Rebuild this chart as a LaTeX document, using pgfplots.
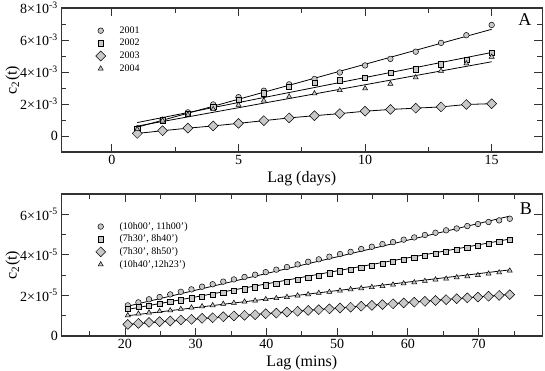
\documentclass[border=0pt]{standalone}
\usepackage{pgfplots}
\pgfplotsset{compat=1.18}
\usepackage{fontspec}
\setmainfont{Liberation Serif}

\definecolor{mfill}{RGB}{200,200,200}
\definecolor{axgray}{RGB}{50,50,50}

\pgfplotstableread{
lag c01 c02 c03 c04
1  0.48 0.42 0.16 0.42
2  1.02 0.98 0.33 0.96
3  1.48 1.38 0.49 1.33
4  1.97 1.85 0.63 1.67
5  2.43 2.29 0.79 1.94
6  2.83 2.67 0.96 2.21
7  3.23 3.08 1.13 2.46
8  3.56 3.31 1.27 2.66
9  3.97 3.49 1.40 2.87
10 4.41 3.66 1.55 2.97
11 4.82 3.93 1.66 3.26
12 5.27 4.17 1.74 3.66
13 5.82 4.48 1.82 4.07
14 6.30 4.79 1.97 4.53
15 6.94 5.19 2.02 4.95
}\daysdata

\pgfplotstableread{
lag a b c d
20.4 1.51 1.35 0.57 1.02
21.9 1.66 1.43 0.62 1.10
23.4 1.81 1.49 0.67 1.15
24.9 1.92 1.58 0.71 1.22
26.4 2.05 1.67 0.74 1.26
27.9 2.18 1.76 0.79 1.33
29.4 2.30 1.86 0.82 1.40
30.9 2.43 1.94 0.87 1.46
32.4 2.55 2.04 0.90 1.51
33.9 2.68 2.12 0.95 1.58
35.4 2.79 2.22 0.99 1.63
36.9 2.91 2.30 1.02 1.69
38.4 3.02 2.40 1.05 1.74
39.9 3.15 2.50 1.10 1.81
41.4 3.27 2.58 1.13 1.86
42.9 3.40 2.68 1.18 1.92
44.4 3.53 2.79 1.22 1.99
45.9 3.66 2.89 1.26 2.05
47.4 3.78 2.99 1.30 2.12
48.9 3.91 3.09 1.34 2.17
50.4 4.04 3.19 1.38 2.23
51.9 4.15 3.28 1.42 2.30
53.4 4.29 3.38 1.47 2.35
54.9 4.40 3.48 1.51 2.41
56.4 4.53 3.58 1.55 2.46
57.9 4.63 3.67 1.59 2.53
59.4 4.75 3.77 1.63 2.59
60.9 4.86 3.86 1.67 2.64
62.4 4.98 3.96 1.71 2.71
63.9 5.09 4.06 1.75 2.78
65.4 5.21 4.15 1.79 2.82
66.9 5.30 4.24 1.84 2.89
68.4 5.42 4.34 1.88 2.94
69.9 5.52 4.44 1.92 3.00
71.4 5.62 4.54 1.96 3.07
72.9 5.70 4.64 2.00 3.13
74.4 5.78 4.74 2.04 3.22
}\minsdata

\pgfplotsset{
  panel/.style={
    scale only axis, width=481pt,
    axis line style={line width=1.2pt, axgray},
    tick align=inside,
    major tick length=8pt, minor tick length=5pt,
    every tick/.style={line width=0.9pt, axgray},
    ticklabel style={font=\fontsize{14}{16}\selectfont},
    label style={font=\fontsize{16}{18}\selectfont},
    /pgf/number format/assume math mode=true,
    ylabel={c\textsubscript{2}(t)},
    every axis y label/.style={at={(axis description cs:-0.101,0.5)}, rotate=90,
      anchor=center, font=\fontsize{16}{18}\selectfont},
    legend style={draw=none, fill=none, font=\fontsize{10}{12}\selectfont,
      anchor=north west, row sep=0.5pt,
      /tikz/every odd column/.append style={column sep=12pt}},
    legend cell align=left,
    clip=false,
  },
  fitline/.style={black, line width=0.8pt, no markers, forget plot},
  mcirc/.style={only marks, mark=*, mark size=2.8pt,
    mark options={fill=mfill, draw=black, line width=0.5pt}},
  msq/.style={only marks, mark=square*, mark size=2.6pt,
    mark options={fill=mfill, draw=black, line width=0.5pt}},
  mdia/.style={only marks, mark=square*, mark size=3.5pt,
    mark options={fill=mfill, draw=black, line width=0.5pt, rotate=45}},
  mtri/.style={only marks, mark=triangle*, mark size=2.9pt,
    mark options={fill=mfill, draw=black, line width=0.5pt}},
}

\begin{document}
\begin{tikzpicture}[x=1pt,y=1pt]
\path[use as bounding box] (0,0) rectangle (545,370);

% panel A
\begin{axis}[panel, at={(61.3pt,218pt)}, anchor=south west, height=144pt,
    xmin=-2, xmax=17, ymin=-1, ymax=8,
    xtick={0,5,10,15}, minor xtick={2.5,7.5,12.5},
    ytick={0,2,4,6,8}, minor ytick={1,3,5,7},
    yticklabels={0,2×10\textsuperscript{-3},4×10\textsuperscript{-3},6×10\textsuperscript{-3},8×10\textsuperscript{-3}},
    xlabel={Lag (days)},
    legend style={at={(0.065,0.90)}},
  ]
  \addplot[fitline] coordinates {(1,0.55) (15,6.67)};
  \addplot[fitline] coordinates {(1,0.84) (15,5.22)};
  \addplot[fitline] coordinates {(1,0.62) (15,4.64)};
  \addplot[fitline] table[x=lag,y=c03] {\daysdata};
  \addplot[mcirc] table[x=lag,y=c01] {\daysdata};
  \addlegendentry{2001}
  \addplot[msq] table[x=lag,y=c02] {\daysdata};
  \addlegendentry{2002}
  \addplot[mdia] table[x=lag,y=c03] {\daysdata};
  \addlegendentry{2003}
  \addplot[mtri] table[x=lag,y=c04] {\daysdata};
  \addlegendentry{2004}
  \node[font=\fontsize{18}{20}\selectfont] at (rel axis cs:0.964,0.917) {A};
\end{axis}

% panel B
\begin{axis}[panel, at={(61.3pt,34pt)}, anchor=south west, height=142pt,
    xmin=11, xmax=79, ymin=0, ymax=7,
    xtick={20,30,...,70}, minor xtick={15,25,...,75},
    ytick={0,2,4,6}, minor ytick={1,3,5,7},
    yticklabels={0,2×10\textsuperscript{-5},4×10\textsuperscript{-5},6×10\textsuperscript{-5}},
    xlabel={Lag (mins)},
    legend style={at={(0.065,0.83)}, row sep=0.2pt},
  ]
  \addplot[fitline] coordinates {(20.4,1.47) (74.4,5.91)};
  \addplot[fitline] coordinates {(20.4,1.31) (74.4,4.78)};
  \addplot[fitline] coordinates {(20.4,0.57) (74.4,2.05)};
  \addplot[fitline] coordinates {(20.4,1.00) (74.4,3.26)};
  \addplot[mcirc] table[x=lag,y=a] {\minsdata};
  \addlegendentry{(10h00', 11h00')}
  \addplot[msq] table[x=lag,y=b] {\minsdata};
  \addlegendentry{(7h30', 8h40')}
  \addplot[mdia] table[x=lag,y=c] {\minsdata};
  \addlegendentry{(7h30', 8h50')}
  \addplot[mtri] table[x=lag,y=d] {\minsdata};
  \addlegendentry{(10h40',12h23')}
  \node[font=\fontsize{18}{20}\selectfont] at (rel axis cs:0.966,0.894) {B};
\end{axis}
\end{tikzpicture}
\end{document}
